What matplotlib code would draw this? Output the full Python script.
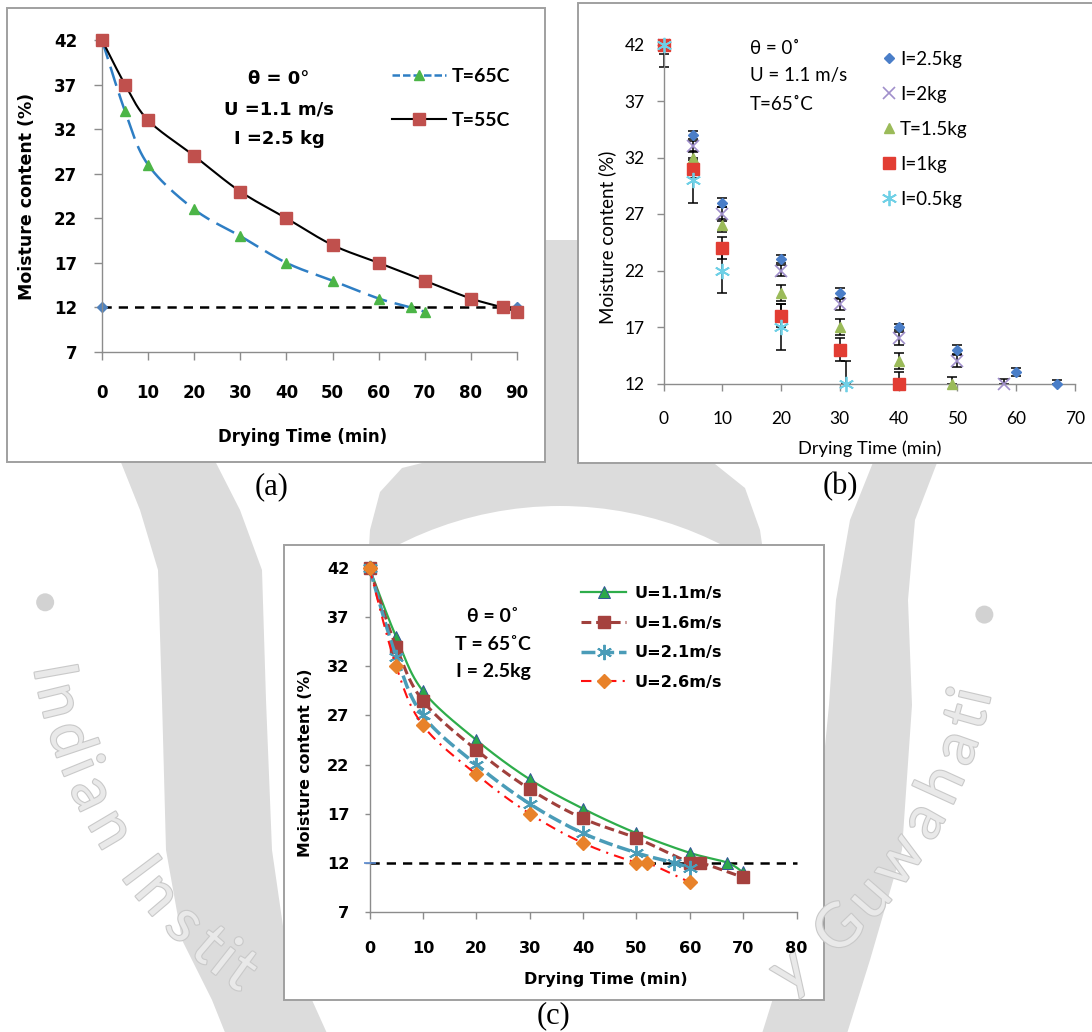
import numpy as np
import matplotlib
matplotlib.use("Agg")
import matplotlib.pyplot as plt
import matplotlib.patheffects as pe
from matplotlib.patches import Rectangle, Circle, Polygon
from matplotlib.lines import Line2D

W, H = 1092, 1032

# ---------------- panel (a): effect of drying temperature ----------------
a_time_65 = [0, 5, 10, 20, 30, 40, 50, 60, 67, 70]
a_mc_65 = [42, 34, 28, 23, 20, 17, 15, 13, 12, 11.5]
a_time_55 = [0, 5, 10, 20, 30, 40, 50, 60, 70, 80, 87, 90]
a_mc_55 = [42, 37, 33, 29, 25, 22, 19, 17, 15, 13, 12, 11.5]
a_safe_time = [0, 90]
a_safe_mc = [12, 12]
a_labels = ["T=65C", "T=55C"]
a_xticks = list(range(0, 91, 10))
a_yticks = [7, 12, 17, 22, 27, 32, 37, 42]

# ---------------- panel (b): effect of bed load (mean +/- error) ----------------
b_labels = ["I=2.5kg", "I=2kg", "T=1.5kg", "I=1kg", "I=0.5kg"]
b_time_25 = [0, 5, 10, 20, 30, 40, 50, 60, 67]
b_mc_25 = [42, 34, 28, 23, 20, 17, 15, 13, 12]
b_err_25 = [0.3, 0.35, 0.4, 0.35, 0.45, 0.3, 0.4, 0.35, 0.35]
b_time_20 = [0, 5, 10, 20, 30, 40, 50, 58]
b_mc_20 = [42, 33, 27, 22, 19, 16, 14, 12]
b_err_20 = [0.5, 0.5, 0.6, 0.5, 0.5, 0.6, 0.5, 0.4]
b_time_15 = [0, 5, 10, 20, 30, 40, 49]
b_mc_15 = [42, 32, 26, 20, 17, 14, 12]
b_err_15 = [0.5, 0.6, 0.6, 0.7, 0.7, 0.7, 0.6]
b_time_10 = [0, 5, 10, 20, 30, 40]
b_mc_10 = [42, 31, 24, 18, 15, 12]
b_err_10 = [0.8, 0.8, 1.0, 1.0, 1.0, 1.0]
b_time_05 = [0, 5, 10, 20, 31]
b_mc_05 = [42, 30, 22, 17, 12]
b_err_05 = [2, 2, 2, 2, 2]
b_xticks = list(range(0, 71, 10))
b_yticks = [12, 17, 22, 27, 32, 37, 42]

# ---------------- panel (c): effect of air velocity ----------------
c_labels = ["U=1.1m/s", "U=1.6m/s", "U=2.1m/s", "U=2.6m/s"]
c_time_11 = [0, 5, 10, 20, 30, 40, 50, 60, 67, 70]
c_mc_11 = [42, 35, 29.5, 24.5, 20.5, 17.5, 15, 13, 12, 11]
c_time_16 = [0, 5, 10, 20, 30, 40, 50, 60, 62, 70]
c_mc_16 = [42, 34, 28.5, 23.5, 19.5, 16.5, 14.5, 12, 12, 10.5]
c_time_21 = [0, 5, 10, 20, 30, 40, 50, 57, 60]
c_mc_21 = [42, 33, 27, 22, 18, 15, 13, 12, 11.5]
c_time_26 = [0, 5, 10, 20, 30, 40, 50, 52, 60]
c_mc_26 = [42, 32, 26, 21, 17, 14, 12, 12, 10]
c_safe_time = [0, 80]
c_safe_mc = [12, 12]
c_xticks = list(range(0, 81, 10))
c_yticks = [7, 12, 17, 22, 27, 32, 37, 42]

# ---------------- fonts ----------------
F_BOLD = ["DejaVu Sans"]
F_LATO = ["Lato", "DejaVu Sans"]
F_SERIF = ["Liberation Serif", "DejaVu Serif"]
AXIS_GREY = "#8c8c8c"


def smooth(xs, ys, n=24):
    """Catmull-Rom curve through the points (spreadsheet-style smoothed line)."""
    p = np.column_stack([xs, ys]).astype(float)
    q = np.vstack([p[0], p, p[-1]])
    t = np.linspace(0, 1, n, endpoint=False)[:, None]
    segs = []
    for i in range(1, len(q) - 2):
        p0, p1, p2, p3 = q[i - 1], q[i], q[i + 1], q[i + 2]
        segs.append(0.5 * (2 * p1 + (p2 - p0) * t
                           + (2 * p0 - 5 * p1 + 4 * p2 - p3) * t ** 2
                           + (3 * p1 - p0 - 3 * p2 + p3) * t ** 3))
    segs.append(p[-1:])
    s = np.vstack(segs)
    return s[:, 0], s[:, 1]


def make_axes(x0, x1, y_top, y_bot):
    ax = fig.add_axes([x0 / W, 1 - y_bot / H, (x1 - x0) / W, (y_bot - y_top) / H])
    ax.set_facecolor("none")
    for side in ("top", "right"):
        ax.spines[side].set_visible(False)
    for side in ("left", "bottom"):
        ax.spines[side].set_color(AXIS_GREY)
        ax.spines[side].set_linewidth(1.0)
    return ax


def style_ticks(ax, xt, yt, fam, weight, size, xlen, ylen, xpad, ypad):
    ax.set_xticks(xt, labels=[str(v) for v in xt], fontfamily=fam,
                  fontweight=weight, fontsize=size)
    ax.set_yticks(yt, labels=[str(v) for v in yt], fontfamily=fam,
                  fontweight=weight, fontsize=size)
    ax.tick_params(axis="x", direction="out", length=xlen, width=1.0,
                   color=AXIS_GREY, pad=xpad)
    ax.tick_params(axis="y", direction="out", length=ylen, width=1.0,
                   color=AXIS_GREY, pad=ypad)


def ftext(x, y, s, **kw):
    fig.text(x / W, 1 - y / H, s, **kw)


def band(outer, inner):
    """Closed outline from an outer and an inner edge given top to bottom."""
    return np.vstack([outer, inner[::-1]])


fig = plt.figure(figsize=(W / 100, H / 100), dpi=100)
fig.patch.set_facecolor("white")

# ---------------- background seal and panel frames (pixel space) ----------------
bg = fig.add_axes([0, 0, 1, 1], zorder=-10)
bg.set_xlim(0, W)
bg.set_ylim(H, 0)
bg.axis("off")
SEAL = "#dcdcdc"
dome = [[366, 600], [370, 530], [380, 492], [402, 468], [450, 456], [545, 452],
        [545, 240], [578, 240], [578, 452], [660, 455], [715, 464], [745, 488],
        [760, 530], [770, 600]]
bg.add_patch(Polygon(dome, closed=True, color=SEAL, lw=0))
bg.add_patch(Circle((560, 862), 356, color="white", lw=0))
left_band = band(np.array([[118, 455], [140, 510], [158, 570], [162, 700], [166, 850],
                           [182, 940], [212, 1000], [228, 1040]]),
                 np.array([[212, 455], [240, 510], [262, 570], [266, 700], [272, 850],
                           [285, 940], [312, 1000], [330, 1040]]))
right_band = band(np.array([[940, 455], [915, 520], [908, 600], [912, 705], [902, 850],
                            [870, 960], [845, 1040]]),
                  np.array([[876, 455], [850, 520], [836, 600], [829, 705], [815, 850],
                            [785, 960], [760, 1040]]))
bg.add_patch(Polygon(left_band, closed=True, color=SEAL, lw=0))
bg.add_patch(Polygon(right_band, closed=True, color=SEAL, lw=0))

seal_text = "Indian Institute of Technology Guwahati"
adv = {"I": 0.45, "i": 0.45, "l": 0.45, "t": 0.6, "f": 0.6, " ": 0.55,
       "m": 1.4, "w": 1.35, "G": 1.15}
wts = np.array([adv.get(ch, 1.0) for ch in seal_text])
mid = np.cumsum(wts) - wts / 2
cx, cy, rad = 515, 590, 470
phi0, phi1 = 171.0, 12.0
outline = [pe.Stroke(linewidth=1.6, foreground="#c9c9c9"), pe.Normal()]
for ch, m in zip(seal_text, mid):
    phi = phi0 - (phi0 - phi1) * m / wts.sum()
    pr = np.radians(phi)
    x, y = cx + rad * np.cos(pr), cy + rad * np.sin(pr)
    if ch == " " or y > 985:
        continue
    bg.text(x, y, ch, fontsize=44, family=F_LATO, color="#e9e9e9",
            rotation=90 - phi, rotation_mode="anchor", ha="center", va="center",
            path_effects=outline)
for phi in (178.5, 3.0):
    pr = np.radians(phi)
    bg.add_patch(Circle((cx + rad * np.cos(pr), cy + rad * np.sin(pr)), 9,
                        color="#d2d2d2", lw=0))

frame_kw = dict(facecolor="white", edgecolor="#a0a0a0", lw=1.4)
bg.add_patch(Rectangle((7, 8), 538, 454, **frame_kw))
bg.add_patch(Rectangle((578, 3), 530, 460, **frame_kw))
bg.add_patch(Rectangle((284, 545), 540, 455, **frame_kw))

# ================= panel (a) =================
ax_a = make_axes(102, 517, 40, 352)
ax_a.set_xlim(0, 90)
ax_a.set_ylim(7, 42)
style_ticks(ax_a, a_xticks, a_yticks, F_BOLD, "bold", 12, 5.8, 5.8, 17, 12)

BLUE_A, GREEN_A, RED_A = "#2E7EC4", "#4CB547", "#C0504D"
sx, sy = smooth(a_time_65, a_mc_65)
ax_a.plot(sx, sy, color=BLUE_A, lw=1.8, ls=(0, (8, 3.2)), clip_on=False, zorder=3)
ax_a.plot(a_time_65, a_mc_65, ls="none", marker="^", ms=7, mfc=GREEN_A,
          mec=GREEN_A, clip_on=False, zorder=4)
sx, sy = smooth(a_time_55, a_mc_55)
ax_a.plot(sx, sy, color="black", lw=1.5, clip_on=False, zorder=3)
ax_a.plot(a_time_55, a_mc_55, ls="none", marker="s", ms=8, mfc=RED_A,
          mec=RED_A, clip_on=False, zorder=5)
ax_a.plot(a_safe_time, a_safe_mc, color="black", lw=1.8, ls=(0, (3.7, 2.8)),
          marker="D", ms=5, mfc="#4F81BD", mec="#4F81BD", clip_on=False, zorder=2)

ax_a.set_xlabel("Drying Time (min)", fontfamily=F_BOLD, fontweight="bold", fontsize=12)
ax_a.set_ylabel("Moisture content (%)", fontfamily=F_BOLD, fontweight="bold", fontsize=12.5)
ax_a.xaxis.set_label_coords(0.484, -0.272)
ax_a.yaxis.set_label_coords(-0.181, 0.498)
ax_a.xaxis.label.set_va("center")
ax_a.yaxis.label.set_va("center")

for y, s in ((79, "θ = 0°"), (110, "U =1.1 m/s"), (139, "I =2.5 kg")):
    ftext(279, y, s, ha="center", va="center", family=F_BOLD, fontweight="bold",
          fontsize=13)

a_handles = [
    Line2D([], [], color=BLUE_A, lw=1.8, ls=(0, (3, 1.2)), marker="^", ms=7,
           mfc=GREEN_A, mec=GREEN_A),
    Line2D([], [], color="black", lw=1.5, marker="s", ms=8, mfc=RED_A, mec=RED_A),
]
ax_a.legend(a_handles, a_labels, loc="upper left", bbox_to_anchor=(392 / W, 1 - 68 / H),
            bbox_transform=fig.transFigure, frameon=False, borderpad=0,
            borderaxespad=0, handlelength=2.8, handletextpad=0.25, labelspacing=1.37,
            prop=dict(family=F_LATO, weight="bold", size=14))

# ================= panel (b) =================
ax_b = make_axes(663.5, 1075, 44.5, 383.5)
ax_b.set_xlim(0, 70)
ax_b.set_ylim(12, 42)
style_ticks(ax_b, b_xticks, b_yticks, F_LATO, "normal", 12.5, 4.8, 5, 15, 8.6)

b_series = [
    (b_time_25, b_mc_25, b_err_25, dict(marker="D", ms=5.5, mfc="#4A7EC8", mec="#4A7EC8")),
    (b_time_20, b_mc_20, b_err_20, dict(marker="x", ms=8, mec="#A08FCB", mew=1.2)),
    (b_time_15, b_mc_15, b_err_15, dict(marker="^", ms=7.5, mfc="#9BBB59", mec="#9BBB59")),
    (b_time_10, b_mc_10, b_err_10, dict(marker="s", ms=8, mfc="#E23D33", mec="#E23D33")),
    (b_time_05, b_mc_05, b_err_05, dict(marker=(6, 2, 0), ms=11, mec="#6FD0E6", mew=1.3)),
]
b_handles = []
for k, (t, m, e, mk) in enumerate(b_series):
    t, m, e = np.array(t, float), np.array(m, float), np.array(e, float)
    lo = np.maximum(m - e, 12)
    hi = np.minimum(m + e, 42)
    ax_b.errorbar(t, m, yerr=[m - lo, hi - m], fmt="none", ecolor="black",
                  elinewidth=1.1, capsize=3.6, capthick=1.1, clip_on=False,
                  zorder=2 + k * 0.01)
    ax_b.plot(t, m, ls="none", clip_on=False, zorder=3 + k * 0.1, **mk)
    b_handles.append(Line2D([], [], ls="none", **mk))

ax_b.set_xlabel("Drying Time (min)", fontfamily=F_LATO, fontsize=13.2)
ax_b.set_ylabel("Moisture content (%)", fontfamily=F_LATO, fontsize=13.5)
ax_b.xaxis.set_label_coords(0.501, -0.192)
ax_b.yaxis.set_label_coords(-0.138, 0.432)
ax_b.xaxis.label.set_va("center")
ax_b.yaxis.label.set_va("center")

for y, s in ((48, "θ = 0˚"), (76, "U = 1.1 m/s"), (104, "T=65˚C")):
    ftext(750, y, s, ha="left", va="center", family=F_LATO, fontsize=13.5)

ax_b.legend(b_handles, b_labels, loc="upper left", bbox_to_anchor=(881 / W, 1 - 51 / H),
            bbox_transform=fig.transFigure, frameon=False, borderpad=0,
            borderaxespad=0, handlelength=0.8, handletextpad=0.2, labelspacing=0.96,
            prop=dict(family=F_LATO, size=13.5))

# ================= panel (c) =================
ax_c = make_axes(369.5, 796.5, 568.3, 911.7)
ax_c.set_xlim(0, 80)
ax_c.set_ylim(7, 42)
style_ticks(ax_c, c_xticks, c_yticks, F_BOLD, "bold", 11.6, 4.8, 3.6, 16, 11)

c_series = [
    (c_time_11, c_mc_11, dict(color="#2EAD4B", lw=1.6, ls="-"),
     dict(marker="^", ms=8.5, mfc="#2BA84A", mec="#2F5597", mew=0.7)),
    (c_time_16, c_mc_16, dict(color="#A0403C", lw=2.2, ls=(0, (3.2, 1.6))),
     dict(marker="s", ms=8, mfc="#A5413E", mec="#A5413E")),
    (c_time_21, c_mc_21, dict(color="#4A9CB8", lw=2.5, ls=(0, (4, 1.4))),
     dict(marker=(6, 2, 0), ms=11, mec="#4A9CB8", mew=1.4)),
    (c_time_26, c_mc_26, dict(color="#FF1010", lw=1.5, ls=(0, (5, 3, 1, 3))),
     dict(marker="D", ms=7, mfc="#E8822A", mec="#E8822A")),
]
c_handles = []
for k, (t, m, ln, mk) in enumerate(c_series):
    sx, sy = smooth(t, m)
    ax_c.plot(sx, sy, clip_on=False, zorder=3 + k * 0.1, **ln)
    ax_c.plot(t, m, ls="none", clip_on=False, zorder=3.05 + k * 0.1, **mk)
    c_handles.append(Line2D([], [], **ln, **mk))
ax_c.plot(c_safe_time, c_safe_mc, color="black", lw=1.8, ls=(0, (3.7, 2.8)),
          clip_on=False, zorder=2.5)
ax_c.plot(c_safe_time[:1], c_safe_mc[:1], ls="none", marker="_", ms=9,
          mec="#5B8BD0", mew=1.2, clip_on=False, zorder=2.6)

ax_c.set_xlabel("Drying Time (min)", fontfamily=F_BOLD, fontweight="bold", fontsize=11.5)
ax_c.set_ylabel("Moisture content (%)", fontfamily=F_BOLD, fontweight="bold", fontsize=11.3)
ax_c.xaxis.set_label_coords(0.553, -0.197)
ax_c.yaxis.set_label_coords(-0.149, 0.434)
ax_c.xaxis.label.set_va("center")
ax_c.yaxis.label.set_va("center")

for y, s in ((617, "θ = 0˚"), (645, "T = 65˚C"), (672, "I = 2.5kg")):
    ftext(493, y, s, ha="center", va="center", family=F_LATO, fontweight="bold",
          fontsize=14)

ax_c.legend(c_handles, c_labels, loc="upper left", bbox_to_anchor=(581 / W, 1 - 586 / H),
            bbox_transform=fig.transFigure, frameon=False, borderpad=0,
            borderaxespad=0, handlelength=2.8, handletextpad=0.54, labelspacing=0.91,
            prop=dict(family=F_BOLD, weight="bold", size=11.6))

# ---------------- sub-figure captions ----------------
for x, y, s in ((272, 487, "(a)"), (840, 487, "(b)"), (553, 1016, "(c)")):
    ftext(x, y, s, ha="center", va="center", family=F_SERIF, fontsize=22)

fig.savefig("out.png", dpi=100, facecolor="white")
